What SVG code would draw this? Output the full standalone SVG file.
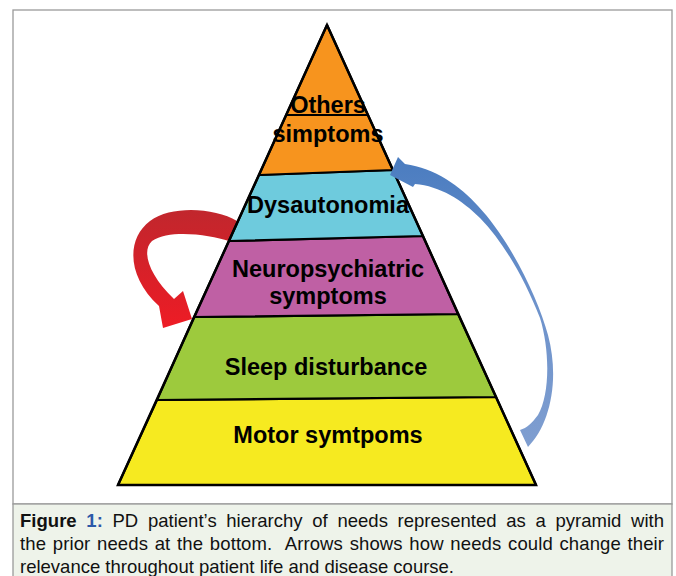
<svg xmlns="http://www.w3.org/2000/svg" width="676" height="576" viewBox="0 0 676 576">
<defs>
<linearGradient id="redGrad" x1="0" y1="0" x2="0" y2="1">
<stop offset="0" stop-color="#c1272d"/>
<stop offset="0.35" stop-color="#d0222a"/>
<stop offset="1" stop-color="#ee1c25"/>
</linearGradient>
<linearGradient id="blueGrad" x1="0" y1="0" x2="0" y2="1">
<stop offset="0" stop-color="#4a7cc0"/>
<stop offset="0.5" stop-color="#6d92cb"/>
<stop offset="1" stop-color="#7f9ed0"/>
</linearGradient>
<style>
.band{stroke:#000;stroke-width:2.2;stroke-linejoin:round}
.lbl{font-family:"Liberation Sans",Arial,sans-serif;font-weight:bold;font-size:23.5px;fill:#000;text-anchor:middle}
.cap{font-family:"Liberation Sans",Arial,sans-serif;font-size:18.5px;fill:#111}
</style>
</defs>
<rect x="0" y="0" width="676" height="576" fill="#fff"/>
<rect x="13" y="10" width="659" height="494" fill="#fff" stroke="#9a9a9a" stroke-width="1.3"/>
<rect x="13" y="504" width="659" height="80" fill="#eef3ea" stroke="#9a9a9a" stroke-width="1.3"/>

<g id="connectors">
<path id="red-arrow" d="M237,221 C215,208 172,205 150,221 C126,239 127,277 159,306 L163,328 L192,319 L183,291 L174,299 C149,275 141,251 152,241 C170,229 210,235 229,241 Z" fill="url(#redGrad)"/>
</g>

<g id="pyramid">
<g id="motor"><polygon class="band" points="157,400 496,397 536,485 118,485" fill="#f6ea20"/><text class="lbl" x="328" y="443">Motor symtpoms</text></g>
<g id="sleep"><polygon class="band" points="194,317 458,314 496,397 157,400" fill="#9dca3d"/><text class="lbl" x="326" y="375">Sleep disturbance</text></g>
<g id="neuro"><polygon class="band" points="229,241 423,236 458,314 194,317" fill="#bf60a4"/><text class="lbl" x="328" y="277">Neuropsychiatric</text><text class="lbl" x="328" y="304">symptoms</text></g>
<g id="dysautonomia"><polygon class="band" points="259,175 393,170 423,236 229,241" fill="#6ecbdd"/><text class="lbl" x="328" y="213">Dysautonomia</text></g>
<g id="others"><polygon class="band" points="327,25 393,170 259,175" fill="#f7941e"/><line x1="286" y1="115" x2="368" y2="115" stroke="#000" stroke-width="2.2"/><text class="lbl" x="328" y="113">Others</text><text class="lbl" x="328" y="142">simptoms</text></g>
<polygon points="327,25 536,485 118,485" fill="none" stroke="#000" stroke-width="2.5" stroke-linejoin="miter"/>
</g>

<g id="connectors-top">
<path id="blue-arrow" d="M528,447 C550,425 560,380 548,335 C538,298 510,240 478,206 C460,186 435,168 405,164 L398,157 L390,175 L413,187 L415,184 C440,186 462,200 480,218 C505,244 525,280 540,318 C550,350 550,395 538,415 C532,423 527,428 520,430 Z" fill="url(#blueGrad)"/>
</g>

<g id="caption">
<text class="cap" x="20" y="527" word-spacing="4.5" textLength="644" lengthAdjust="spacing"><tspan font-weight="bold">Figure</tspan> <tspan font-weight="bold" fill="#2c59a8">1:</tspan> PD patient’s hierarchy of needs represented as a pyramid with</text>
<text class="cap" x="20" y="550" word-spacing="1.5" textLength="644" lengthAdjust="spacing" xml:space="preserve">the prior needs at the bottom.  Arrows shows how needs could change their</text>
<text class="cap" x="20" y="573">relevance throughout patient life and disease course.</text>
</g>
</svg>
